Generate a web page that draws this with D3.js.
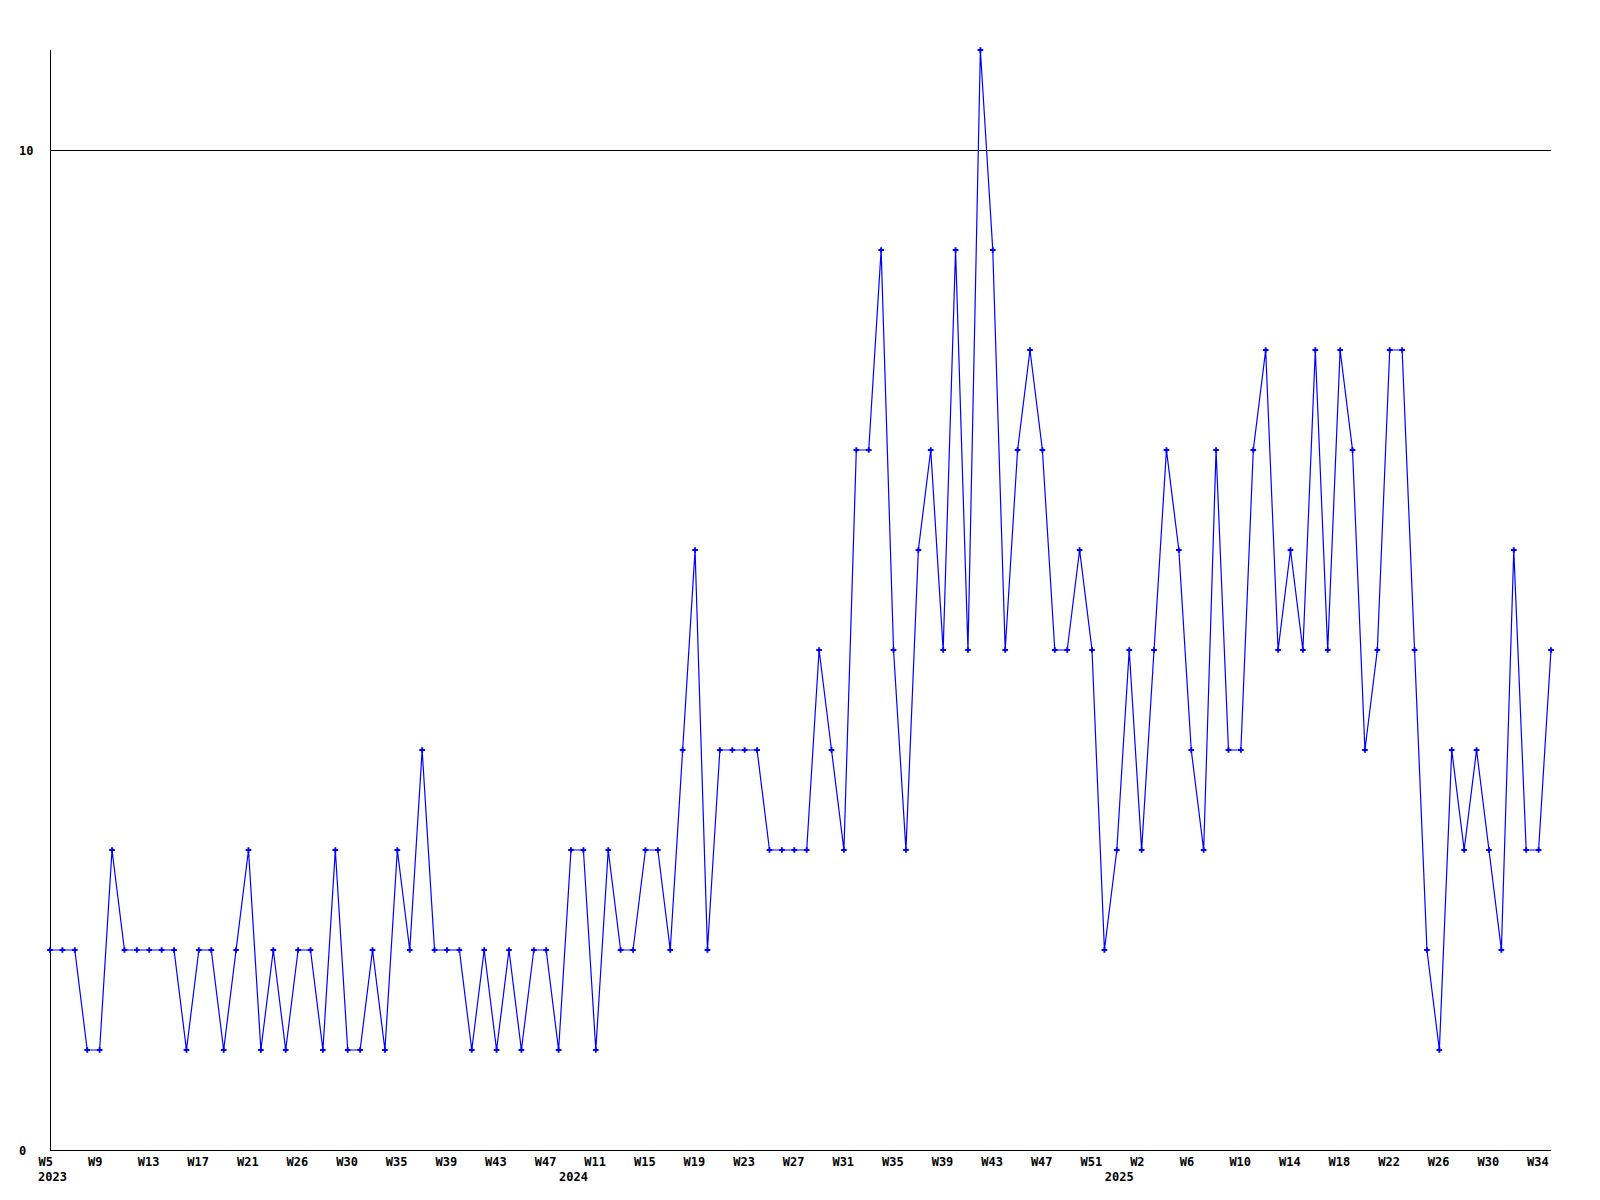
<!DOCTYPE html>
<html>
<head>
<meta charset="utf-8">
<script src="https://cdn.jsdelivr.net/npm/d3@7/dist/d3.min.js"></script>
<style>
  html, body { margin: 0; padding: 0; background: #ffffff; }
  svg { display: block; }
  .lbl { font-family: "DejaVu Sans Mono", "Liberation Mono", monospace; font-weight: bold; font-size: 12px; fill: #000; }
</style>
</head>
<body>
<script>
// ---- data ----
const values = [
  2,2,2,1,1,3,2,2,2,2,2,1,2,2,1,2,3,1,2,1,
  2,2,1,3,1,1,2,1,3,2,4,2,2,2,1,2,1,2,1,2,
  2,1,3,3,1,3,2,2,3,3,2,4,6,2,4,4,4,4,3,3,
  3,3,5,4,3,7,7,9,5,3,6,7,5,9,5,11,9,5,7,8,
  7,5,5,6,5,2,3,5,3,5,7,6,4,3,7,4,4,7,8,5,
  6,5,8,5,8,7,4,5,8,8,5,2,1,4,3,4,3,2,6,3,
  3,5
];
const tickLabels = ["W5","W9","W13","W17","W21","W26","W30","W35","W39","W43","W47",
  "W11","W15","W19","W23","W27","W31","W35","W39","W43","W47","W51",
  "W2","W6","W10","W14","W18","W22","W26","W30","W34"];
const tickEvery = 4;
const yearLabels = ["2023","2024","2025"];
const yearStartIndex = [0, 42, 86];
const yTickValues = [0, 10];

// ---- layout ----
const W = 1600, H = 1200;
const mLeft = 50, mRight = 1551, mTop = 50, mBottom = 1150;

const svg = d3.select("body").append("svg").attr("width", W).attr("height", H);

const x = d3.scaleLinear().domain([0, values.length - 1]).range([mLeft, mRight]);
const y = d3.scaleLinear().domain([0, 11]).range([mBottom, mTop]);

// gridline at 10
svg.append("g").selectAll("line").data(yTickValues.filter(v => v > 0)).join("line")
  .attr("x1", mLeft).attr("x2", mRight)
  .attr("y1", d => Math.round(y(d)) + 0.5).attr("y2", d => Math.round(y(d)) + 0.5)
  .attr("stroke", "#000").attr("stroke-width", 1).attr("shape-rendering", "crispEdges");

// y axis line
svg.append("line").attr("x1", mLeft + 0.5).attr("x2", mLeft + 0.5).attr("y1", mTop).attr("y2", mBottom)
  .attr("stroke", "#000").attr("shape-rendering", "crispEdges");
// x axis line
svg.append("line").attr("x1", mLeft).attr("x2", mRight).attr("y1", mBottom + 0.5).attr("y2", mBottom + 0.5)
  .attr("stroke", "#000").attr("shape-rendering", "crispEdges");

// y labels
svg.append("g").selectAll("text").data(yTickValues).join("text")
  .attr("class", "lbl").attr("x", 19).attr("y", d => y(d) + 4.5)
  .text(d => d);

// x tick labels (left-aligned slightly before each tick)
const xAxis = d3.axisBottom(x)
  .tickValues(tickLabels.map((_, i) => i * tickEvery))
  .tickFormat((d, i) => tickLabels[i])
  .tickSize(0).tickPadding(0);
const gx = svg.append("g").attr("transform", `translate(0,${mBottom})`).call(xAxis);
gx.select(".domain").remove();
gx.selectAll("text").attr("class", "lbl").attr("dy", null).attr("y", 16)
  .attr("x", -12).attr("text-anchor", "start").attr("fill", null);

// year labels
svg.append("g").selectAll("text").data(yearLabels).join("text")
  .attr("class", "lbl").attr("x", (d, i) => x(yearStartIndex[i]) - 12).attr("y", 1181)
  .text(d => d);

// data line
const line = d3.line().x((d, i) => x(i)).y(d => y(d));
svg.append("path").datum(values).attr("d", line)
  .attr("fill", "none").attr("stroke", "#0000ff").attr("stroke-width", 1.2);

// markers
svg.append("g").selectAll("path").data(values).join("path")
  .attr("transform", (d, i) => `translate(${x(i)},${y(d)})`)
  .attr("d", d3.symbol().type(d3.symbolCross).size(18))
  .attr("fill", "#0000ff");
</script>
</body>
</html>
